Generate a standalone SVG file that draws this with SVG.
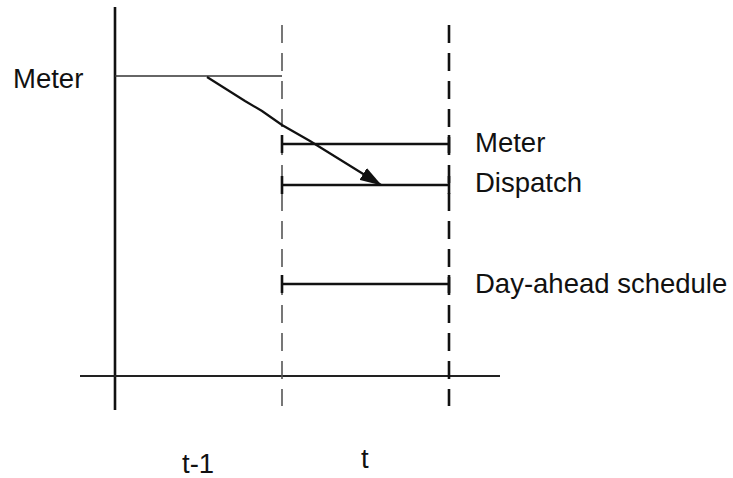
<svg xmlns="http://www.w3.org/2000/svg" width="733" height="478" viewBox="0 0 733 478">
<defs>
<style>
text{font-family:"Liberation Sans",Arial,sans-serif;font-size:27.5px;fill:#111}
.seg{stroke:#111;stroke-width:2.6;fill:none}
</style>
<marker id="ah" viewBox="0 0 22 14" refX="21" refY="7" markerWidth="22" markerHeight="14" markerUnits="userSpaceOnUse" orient="auto">
<path d="M0,0 L22,7 L0,14 z" fill="#111"/>
</marker>
</defs>
<rect width="733" height="478" fill="#fff"/>
<g id="axes">
<line x1="115" y1="7" x2="115" y2="410" stroke="#111" stroke-width="2.6"/>
<line x1="80" y1="376" x2="500" y2="376" stroke="#222" stroke-width="1.8"/>
<line x1="282" y1="25" x2="282" y2="406" stroke="#555" stroke-width="1.6" stroke-dasharray="18 10"/>
<line x1="449" y1="25" x2="449" y2="406" stroke="#111" stroke-width="2.6" stroke-dasharray="18 10"/>
</g>
<g id="meter-prev">
<line x1="115" y1="76" x2="282" y2="76" stroke="#333" stroke-width="1.5"/>
<text x="13" y="88">Meter</text>
</g>
<g id="meter">
<path class="seg" d="M282,135 V153 M282,144 H449 M449,135 V153"/>
<text x="475" y="152">Meter</text>
</g>
<g id="dispatch">
<path class="seg" d="M282,176 V194 M282,185 H449 M449,176 V194"/>
<text x="475" y="192">Dispatch</text>
</g>
<g id="day-ahead">
<path class="seg" d="M282,275 V293 M282,284 H449 M449,275 V293"/>
<text x="475" y="293">Day-ahead schedule</text>
</g>
<g id="labels">
<text x="182" y="473">t-1</text>
<text x="361" y="468">t</text>
</g>
<g id="connectors">
<path d="M207,77 L245,101 L262,111 L282,125 L310,141 L381,185" fill="none" stroke="#111" stroke-width="2.2" marker-end="url(#ah)"/>
</g>
</svg>
